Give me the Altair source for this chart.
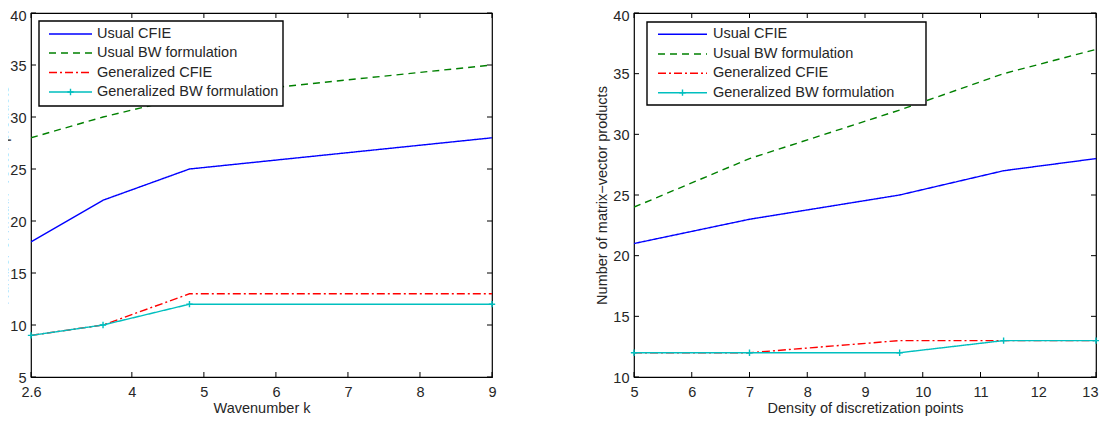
import altair as alt
import pandas as pd

# ---------------- data ----------------
series_names = ["Usual CFIE", "Usual BW formulation", "Generalized CFIE", "Generalized BW formulation"]
series_colors = ["#0000FF", "#008000", "#FF0000", "#00BFBF"]
series_dashes = [[1, 0], [7, 5], [8, 3, 2, 3], [1, 0]]

# left panel: wavenumber k
k_values = [2.6, 3.6, 4.8, 9]
k_usual_cfie = [18, 22, 25, 28]
k_usual_bw = [28, 30, 32, 35]
k_gen_cfie = [9, 10, 13, 13]
k_gen_bw = [9, 10, 12, 12]

# right panel: density of discretization points
d_values = [5, 7, 9.6, 11.4, 13]
d_usual_cfie = [21, 23, 25, 27, 28]
d_usual_bw = [24, 28, 32, 35, 37]
d_gen_cfie = [12, 12, 13, 13, 13]
d_gen_bw = [12, 12, 12, 13, 13]

left_xticks = [2.6, 4, 5, 6, 7, 8, 9]
left_yticks = [5, 10, 15, 20, 25, 30, 35, 40]
right_xticks = [5, 6, 7, 8, 9, 10, 11, 12, 13]
right_yticks = [10, 15, 20, 25, 30, 35, 40]

y_title = "Number of matrix\u2212vector products"

FONT = "Liberation Sans"
TXT = "#262626"
FS = 14.5
TICK = 5
PLUS = "M-1,0L1,0M0,-1L0,1"


def build_panel(xs, series_ys, xdom, ydom, xticks, yticks, xtitle, W, H, leg, ytitle_x, edge_tick=None):
    xscale = alt.Scale(domain=xdom, nice=False, zero=False)
    yscale = alt.Scale(domain=ydom, nice=False, zero=False)
    extra = {}
    if edge_tick is not None:
        test = "datum.value == %s" % edge_tick
        extra = dict(
            labelAlign={"condition": {"test": test, "value": "right"}, "value": "center"},
            labelOffset={"condition": {"test": test, "value": 2}, "value": 0},
        )
    top_test = "datum.value == %s" % ydom[1]
    xaxis = alt.Axis(values=xticks, title=xtitle, domain=False, ticks=False, grid=False,
                     labelPadding=8, labelFontSize=FS, labelColor=TXT, labelFont=FONT,
                     labelFlush=False, labelOverlap=False, format=".1~f",
                     titleFontSize=FS, titleFontWeight="normal", titleColor=TXT, titleFont=FONT,
                     titleY=24, titleBaseline="top", titleX=W / 2, titleAlign="center", **extra)
    yaxis = alt.Axis(values=yticks, title=y_title, domain=False, ticks=False, grid=False,
                     labelPadding=5, labelFontSize=FS, labelColor=TXT, labelFont=FONT,
                     labelFlush=False, labelOverlap=False, format="d",
                     labelOffset={"condition": {"test": top_test, "value": 3}, "value": 1},
                     titleFontSize=FS, titleFontWeight="normal", titleColor=TXT, titleFont=FONT,
                     titleX=ytitle_x, titleY=H / 2, titleAngle=270, titleAlign="center",
                     titleBaseline="alphabetic")
    X = lambda: alt.X("x:Q", scale=xscale, axis=xaxis, title=xtitle)
    Y = lambda: alt.Y("y:Q", scale=yscale, axis=yaxis, title=y_title)

    layers = []
    for i, (name, ys) in enumerate(zip(series_names, series_ys)):
        df = pd.DataFrame({"x": xs, "y": ys, "series": name})
        layers.append(
            alt.Chart(df).mark_line(color=series_colors[i], strokeDash=series_dashes[i],
                                    strokeWidth=1.4, clip=True).encode(x=X(), y=Y())
        )
    # plus markers on generalized BW
    df_bw = pd.DataFrame({"x": xs, "y": series_ys[3]})
    layers.append(
        alt.Chart(df_bw).mark_point(shape=PLUS, filled=False, size=40, strokeWidth=1.4,
                                    color=series_colors[3], opacity=1).encode(x=X(), y=Y())
    )

    # inward ticks on all four sides
    dfx = pd.DataFrame({"x": xticks})
    dfy = pd.DataFrame({"y": yticks})
    tick_style = dict(color="black", strokeWidth=1)
    layers.append(alt.Chart(dfx).mark_rule(**tick_style).encode(
        x=X(), y=alt.value(H), y2=alt.value(H - TICK)))
    layers.append(alt.Chart(dfx).mark_rule(**tick_style).encode(
        x=X(), y=alt.value(0), y2=alt.value(TICK)))
    layers.append(alt.Chart(dfy).mark_rule(**tick_style).encode(
        y=Y(), x=alt.value(0), x2=alt.value(TICK)))
    layers.append(alt.Chart(dfy).mark_rule(**tick_style).encode(
        y=Y(), x=alt.value(W), x2=alt.value(W - TICK)))

    # legend box
    bx0, by0, bx1, by1, lx0, lx1, tx, rows = leg
    one = pd.DataFrame({"a": [0]})
    layers.append(alt.Chart(one).mark_rect(fill="white", stroke="black", strokeWidth=1.4).encode(
        x=alt.value(bx0), x2=alt.value(bx1), y=alt.value(by0), y2=alt.value(by1)))
    for i, name in enumerate(series_names):
        ry = rows[i]
        layers.append(alt.Chart(one).mark_rule(color=series_colors[i], strokeDash=series_dashes[i],
                                               strokeWidth=1.4).encode(
            x=alt.value(lx0), x2=alt.value(lx1), y=alt.value(ry)))
        layers.append(alt.Chart(pd.DataFrame({"label": [name]})).mark_text(
            align="left", baseline="middle", fontSize=FS, font=FONT, color=TXT).encode(
            x=alt.value(tx), y=alt.value(ry), text="label:N"))
    layers.append(alt.Chart(one).mark_point(shape=PLUS, filled=False, size=40, strokeWidth=1.4,
                                            color=series_colors[3], opacity=1).encode(
        x=alt.value((lx0 + lx1) / 2), y=alt.value(rows[3])))

    return alt.layer(*layers).properties(width=W, height=H)


W_L, W_R, H = 461, 462, 364

left = build_panel(
    k_values, [k_usual_cfie, k_usual_bw, k_gen_cfie, k_gen_bw],
    [2.6, 9], [5, 40], left_xticks, left_yticks, "Wavenumber k", W_L, H,
    (8, 8, 252, 93, 18, 61, 66, [21, 40, 59.5, 79]), -24)

right = build_panel(
    d_values, [d_usual_cfie, d_usual_bw, d_gen_cfie, d_gen_bw],
    [5, 13], [10, 40], right_xticks, right_yticks, "Density of discretization points", W_R, H,
    (13, 9, 292, 92, 24, 73, 79, [21.3, 41, 60.3, 79.7]), -28, edge_tick=13)

chart = alt.hconcat(left, right, spacing=142, bounds="flush").properties(
    autosize=alt.AutoSizeParams(type="none"),
    padding={"left": 23, "top": 5, "right": 1068, "bottom": 402},
    background="white",
).configure(font=FONT).configure_view(stroke="black", strokeWidth=1.2)

chart.save("out.html", embed_options={"renderer": "svg", "actions": False})
